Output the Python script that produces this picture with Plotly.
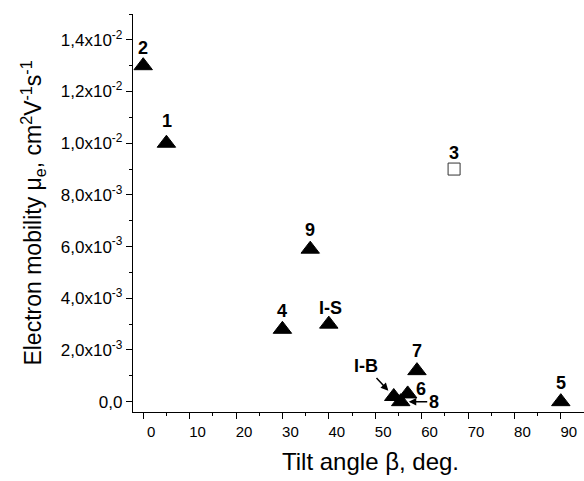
import plotly.graph_objects as go

# ---- data ----
tri_labels = ["2", "1", "9", "4", "I-S", "7", "I-B", "8", "6", "5"]
tri_angle = [0, 5, 36, 30, 40, 59, 54, 55.5, 57, 90]
tri_mobility = [0.0130, 0.0100, 0.0059, 0.0028, 0.0030, 0.0012, 0.0002, 0.0000, 0.0003, 0.0000]

sq_labels = ["3"]
sq_angle = [67]
sq_mobility = [0.0090]

y_tickvals = [0, 0.002, 0.004, 0.006, 0.008, 0.010, 0.012, 0.014]
y_ticktext = ["0,0", "2,0x10<sup>-3</sup>", "4,0x10<sup>-3</sup>", "6,0x10<sup>-3</sup>",
              "8,0x10<sup>-3</sup>", "1,0x10<sup>-2</sup>", "1,2x10<sup>-2</sup>", "1,4x10<sup>-2</sup>"]
x_tickvals = [0, 10, 20, 30, 40, 50, 60, 70, 80, 90]
x_title = "Tilt angle \u03b2, deg."
y_title = "Electron mobility \u03bc<sub>e</sub>, cm<sup>2</sup>V<sup>-1</sup>s<sup>-1</sup>"

# ---- label placement (pixel offsets) ----
label_style = {
    "2": dict(dx=0, dy=18), "1": dict(dx=1, dy=22), "3": dict(dx=0, dy=16),
    "9": dict(dx=0, dy=19), "4": dict(dx=0, dy=18), "I-S": dict(dx=2, dy=16),
    "7": dict(dx=0, dy=20), "5": dict(dx=0, dy=19), "6": dict(dx=13, dy=5),
    "I-B": dict(arrow=True, ax=-28, ay=-30), "8": dict(arrow=True, ax=33, ay=0),
}

FONT = "Liberation Sans, Arial, sans-serif"

fig = go.Figure()
fig.add_trace(go.Scatter(
    x=tri_angle, y=tri_mobility, mode="markers",
    marker=dict(symbol="triangle-up", size=16, color="black",
                line=dict(color="black", width=1)),
    showlegend=False, cliponaxis=False))
fig.add_trace(go.Scatter(
    x=sq_angle, y=sq_mobility, mode="markers",
    marker=dict(symbol="square", size=12, color="white",
                line=dict(color="#333333", width=1)),
    showlegend=False, cliponaxis=False))

annotations = []
for labs, xs, ys in [(tri_labels, tri_angle, tri_mobility), (sq_labels, sq_angle, sq_mobility)]:
    for lab, xv, yv in zip(labs, xs, ys):
        st = label_style[lab]
        if st.get("arrow"):
            annotations.append(dict(
                x=xv, y=yv, xref="x", yref="y", text="<b>%s</b>" % lab,
                showarrow=True, ax=st["ax"], ay=st["ay"], arrowhead=2,
                arrowsize=1, arrowwidth=1.5, arrowcolor="black", standoff=8,
                font=dict(family=FONT, size=18, color="black")))
        else:
            annotations.append(dict(
                x=xv, y=yv, xref="x", yref="y", text="<b>%s</b>" % lab,
                showarrow=False, xshift=st["dx"], yshift=st["dy"],
                font=dict(family=FONT, size=18, color="black")))

# x-axis title (slightly right of centre, as in the reference)
annotations.append(dict(
    x=0.526, y=-0.125, xref="paper", yref="paper", text=x_title,
    showarrow=False, xanchor="center", yanchor="middle",
    font=dict(family=FONT, size=24, color="black")))

fig.update_layout(
    width=584, height=481,
    margin=dict(l=133, r=0, t=14, b=69),
    paper_bgcolor="white", plot_bgcolor="white",
    font=dict(family=FONT, color="black"),
    annotations=annotations,
    xaxis=dict(
        range=[-2.2, 95.0], tickvals=x_tickvals, ticks="outside", ticklen=6,
        tickwidth=1.3, tickcolor="black", showline=True, linecolor="black",
        linewidth=1.3, showgrid=False, zeroline=False, ticklabelshift=8,
        tickfont=dict(size=15, family=FONT),
        minor=dict(dtick=5, tick0=0, ticks="outside", ticklen=3, tickwidth=1.3,
                   tickcolor="black", showgrid=False),
    ),
    yaxis=dict(
        range=[-0.0004, 0.015], tickvals=y_tickvals, ticktext=y_ticktext,
        ticks="outside", ticklen=6, tickwidth=1.3, tickcolor="black",
        showline=True, linecolor="black", linewidth=1.3, showgrid=False,
        zeroline=False, tickfont=dict(size=17, family=FONT),
        minor=dict(dtick=0.001, tick0=0, ticks="outside", ticklen=3, tickwidth=1.3,
                   tickcolor="black", showgrid=False),
        title=dict(text=y_title, font=dict(size=23, family=FONT), standoff=12),
    ),
)

fig.write_html("out.html")
